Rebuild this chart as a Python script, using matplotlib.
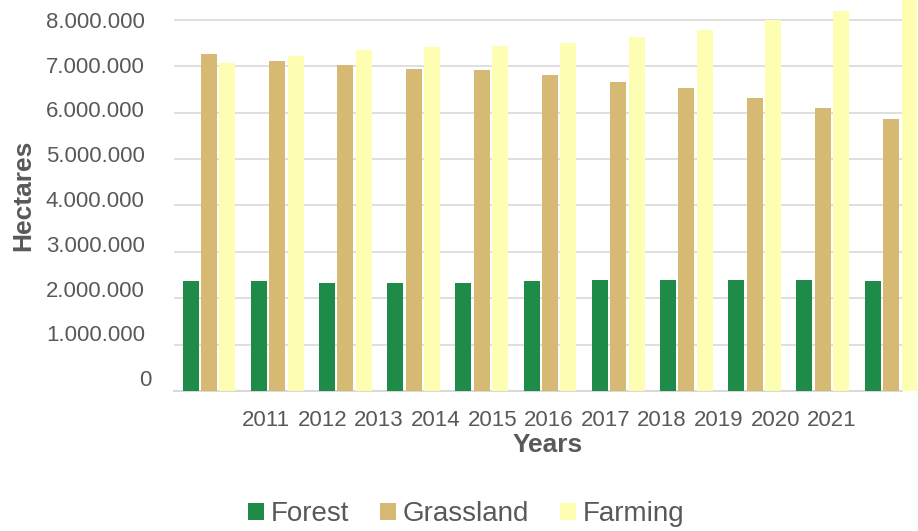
import numpy as np
import matplotlib
matplotlib.use('Agg')
import matplotlib.pyplot as plt
from matplotlib.transforms import ScaledTranslation

plt.rcParams['font.family'] = ['Liberation Sans', 'DejaVu Sans']

years = ['2011', '2012', '2013', '2014', '2015', '2016', '2017', '2018', '2019', '2020', '2021']
forest = [2370000, 2370000, 2330000, 2330000, 2330000, 2370000, 2390000, 2390000, 2390000, 2390000, 2370000]
grassland = [7260000, 7110000, 7030000, 6940000, 6920000, 6810000, 6660000, 6530000, 6310000, 6100000, 5860000]
farming = [7070000, 7220000, 7350000, 7410000, 7440000, 7500000, 7630000, 7780000, 8000000, 8190000, 8500000]

grey = '#595959'
x = np.arange(len(years))
w = 0.234
off = 0.27

fig = plt.figure(figsize=(9.18, 5.31), dpi=100)
ax = fig.add_axes([174/918, 1 - 391/531, 728/918, 391/531])

ax.bar(x - off, forest, w, color='#1e8c48', label='Forest', clip_on=False, zorder=3)
ax.bar(x, grassland, w, color='#d6b973', label='Grassland', clip_on=False, zorder=3)
ax.bar(x + off, farming, w, color='#fefeb3', label='Farming', clip_on=False, zorder=3)

ax.set_xlim(-0.513, 10.16)
ax.set_ylim(0, 391 / 46.4 * 1e6)
yt = np.arange(0, 8000001, 1000000)
ax.set_yticks(yt)
ax.set_yticklabels(['0'] + [f'{v:,}'.replace(',', '.') for v in yt[1:]])
ax.yaxis.grid(True, color='#d9d9d9', linewidth=1.2, zorder=0)
ax.set_axisbelow(True)

# year labels are packed tighter than the bar groups in the original
ax.set_xticks(0.836 + 0.8295 * x)
ax.set_xticklabels(years)

for s in ['top', 'right', 'left']:
    ax.spines[s].set_visible(False)
ax.spines['bottom'].set_color('#d9d9d9')
ax.spines['bottom'].set_linewidth(1.5)

ax.tick_params(axis='both', length=0, labelsize=16, labelcolor=grey)
ax.tick_params(axis='y', pad=21)
ax.tick_params(axis='x', pad=14)

ax.set_ylabel('Hectares', fontsize=19, fontweight='bold', color=grey)
ax.yaxis.set_label_coords(-0.19, 0.5)
ax.set_xlabel('Years', fontsize=19, fontweight='bold', color=grey, va='center')
ax.xaxis.set_label_coords(0.514, -0.138)

fig.legend(loc='center', bbox_to_anchor=(466/918, 1 - 514/531), ncol=3, frameon=False,
           fontsize=20, labelcolor=grey, handlelength=0.58, handleheight=0.58,
           handletextpad=0.25, columnspacing=1.1)

# the value labels in the original sit a bit above their gridlines, more so near 0
fig.canvas.draw()
for i, t in enumerate(ax.yaxis.get_major_ticks()):
    dy = -(8 - i) * 1.6 / 100
    dx = 0.07 if i == 0 else 0
    t.label1.set_transform(t.label1.get_transform() + ScaledTranslation(dx, -dy, fig.dpi_scale_trans))

fig.savefig('out.png', dpi=100)
